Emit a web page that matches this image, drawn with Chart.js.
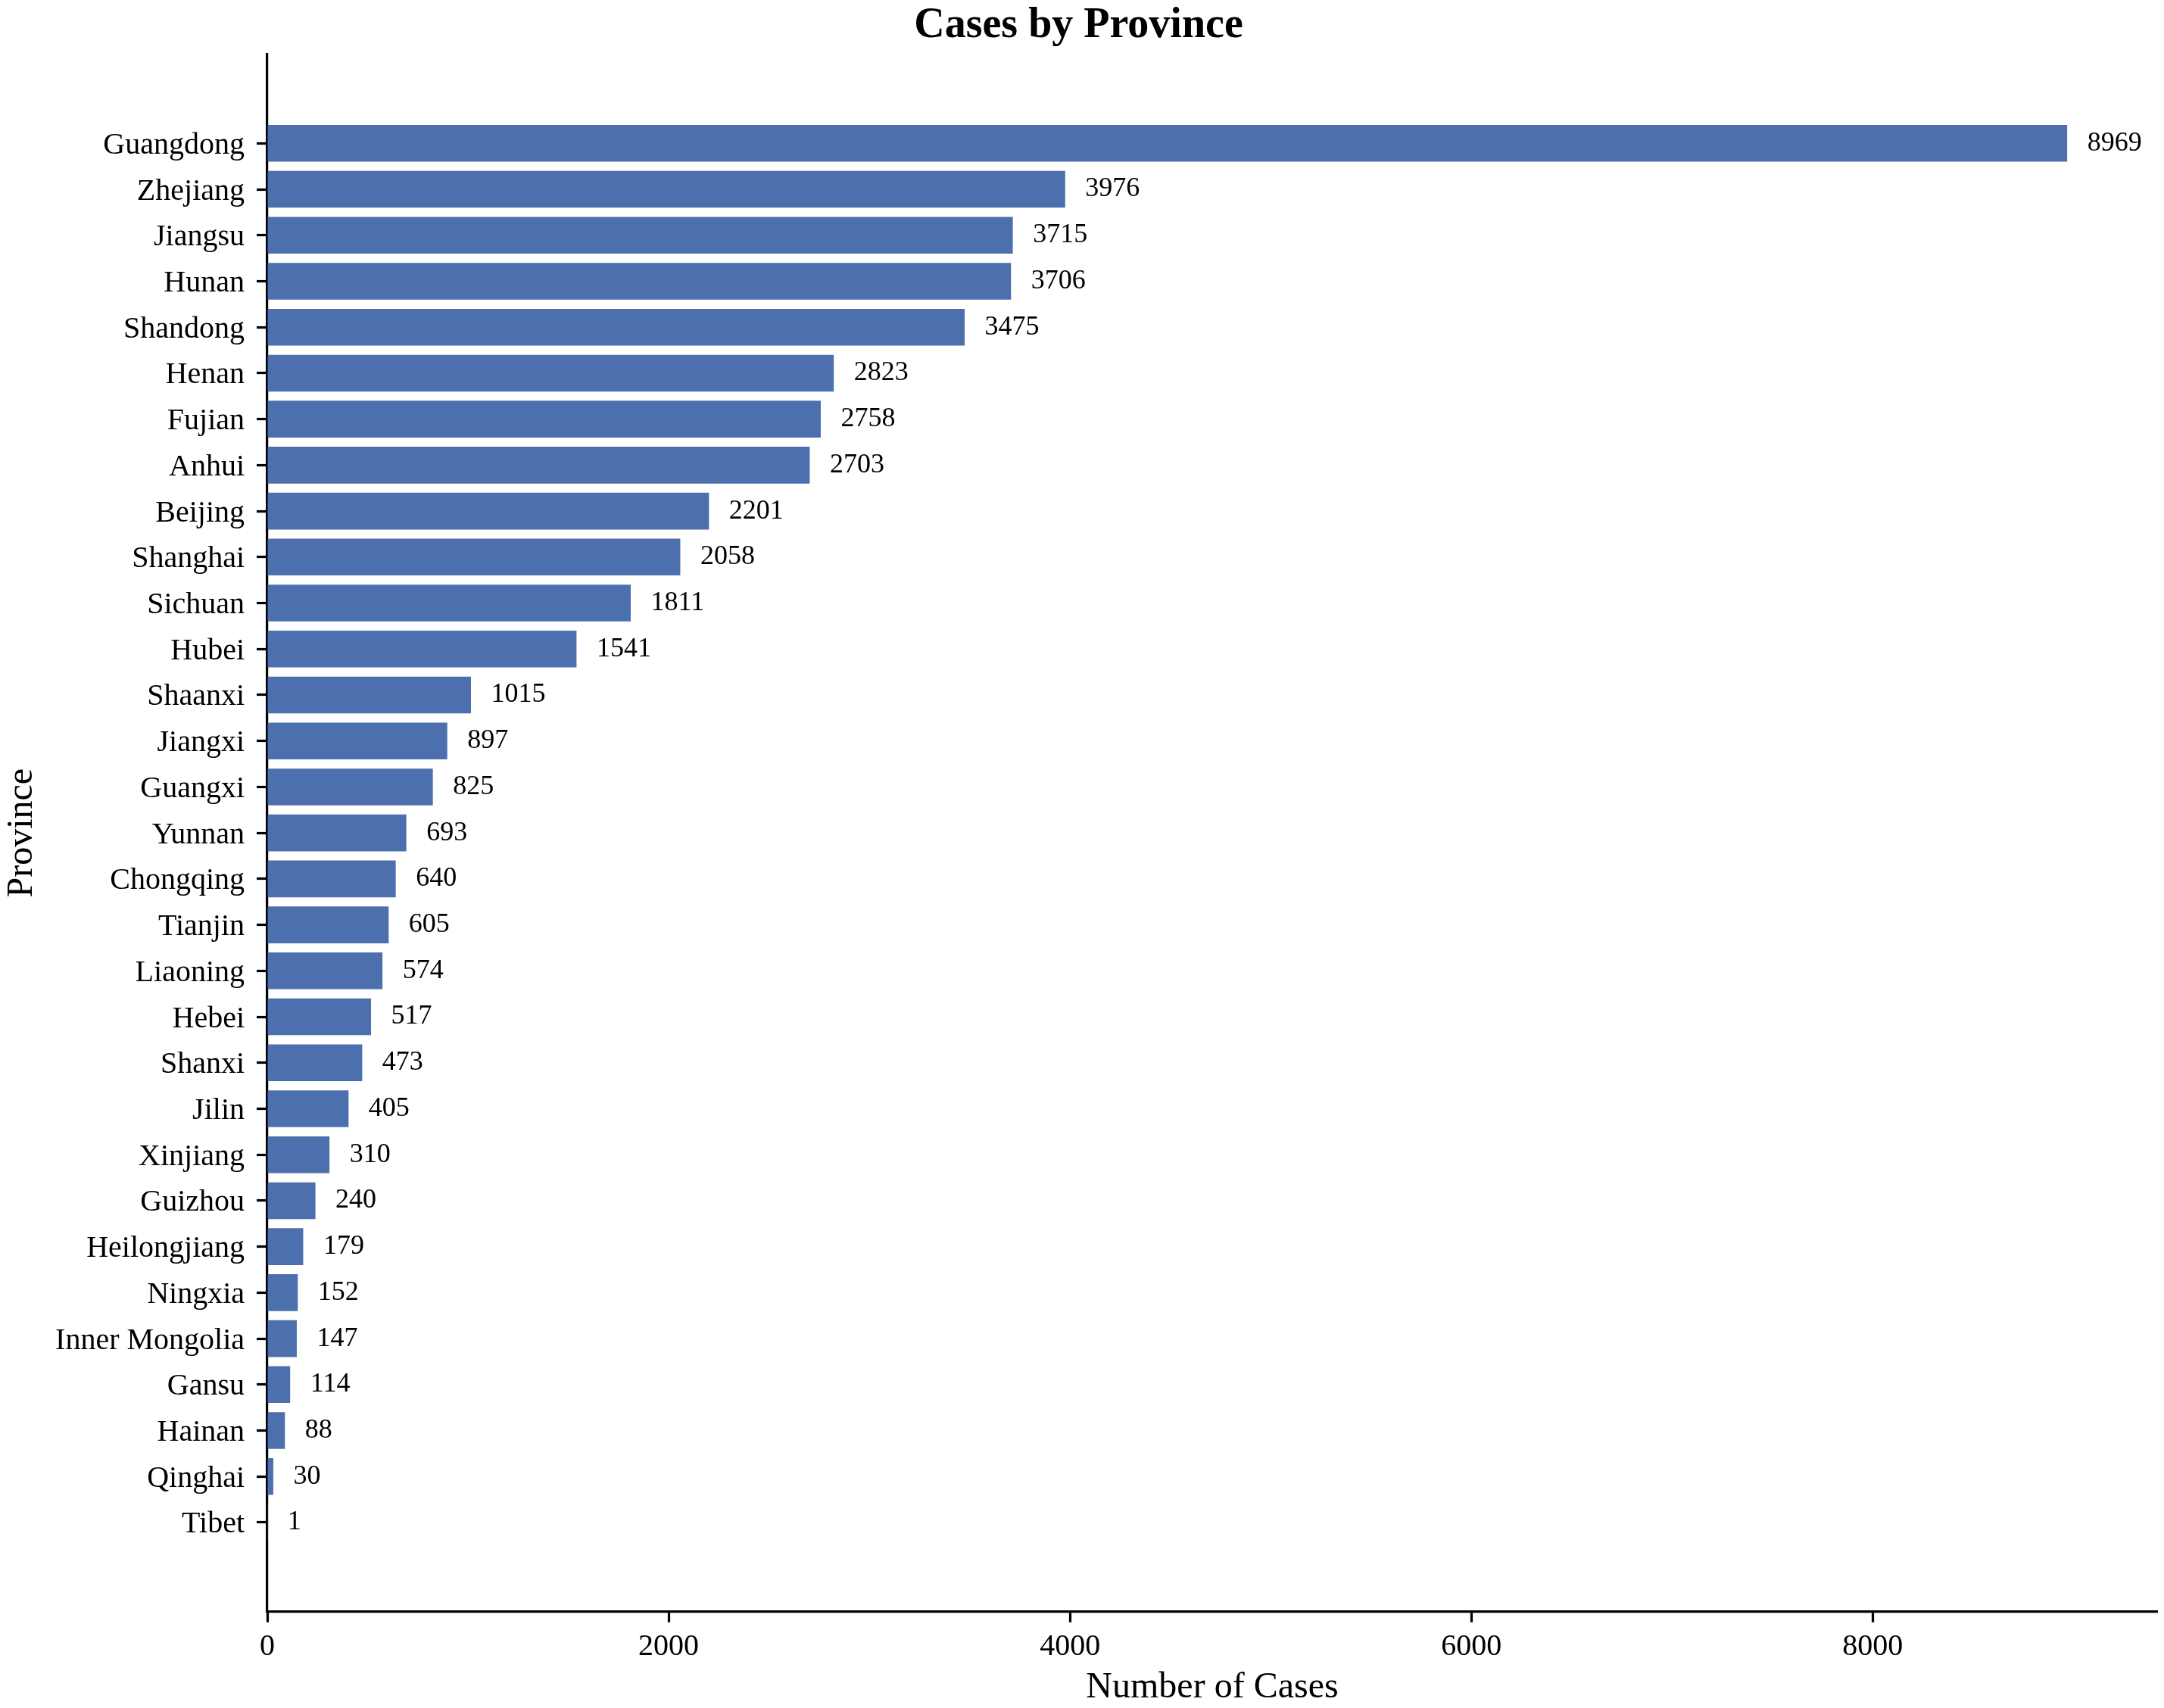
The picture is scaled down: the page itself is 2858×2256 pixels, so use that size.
<!DOCTYPE html>
<html>
<head>
<meta charset="utf-8">
<title>Cases by Province</title>
<script src="https://cdn.jsdelivr.net/npm/chart.js@4.4.1/dist/chart.umd.min.js"></script>
<style>
  html, body { margin: 0; padding: 0; background: #ffffff; }
  #wrap { width: 2858px; height: 2256px; }
</style>
</head>
<body>
<div id="wrap"><canvas id="provinceChart"></canvas></div>
<script>
// values
var provinces = [
  'Guangdong', 'Zhejiang', 'Jiangsu', 'Hunan', 'Shandong', 'Henan', 'Fujian',
  'Anhui', 'Beijing', 'Shanghai', 'Sichuan', 'Hubei', 'Shaanxi', 'Jiangxi',
  'Guangxi', 'Yunnan', 'Chongqing', 'Tianjin', 'Liaoning', 'Hebei', 'Shanxi',
  'Jilin', 'Xinjiang', 'Guizhou', 'Heilongjiang', 'Ningxia', 'Inner Mongolia',
  'Gansu', 'Hainan', 'Qinghai', 'Tibet'
];
var cases = [
  8969, 3976, 3715, 3706, 3475, 2823, 2758,
  2703, 2201, 2058, 1811, 1541, 1015, 897,
  825, 693, 640, 605, 574, 517, 473,
  405, 310, 240, 179, 152, 147,
  114, 88, 30, 1
];
var xTicks = [0, 2000, 4000, 6000, 8000];

var serif = '"Liberation Serif", "Times New Roman", serif';
var barColor = '#4c70ae';

// same margins as a matplotlib barh: 5% around the data
var xMax = Math.max.apply(null, cases) * 1.05;
var yMin = -0.4 - 0.05 * (provinces.length - 0.2);
var yMax = provinces.length - 1 + 0.4 + 0.05 * (provinces.length - 0.2);

var valueLabels = {
  id: 'valueLabels',
  afterDatasetsDraw: function (chart) {
    var ctx = chart.ctx;
    var xScale = chart.scales.x;
    var meta = chart.getDatasetMeta(0);
    ctx.save();
    ctx.font = '36px ' + serif;
    ctx.fillStyle = '#000000';
    ctx.textAlign = 'left';
    ctx.textBaseline = 'middle';
    meta.data.forEach(function (bar, i) {
      ctx.fillText(String(cases[i]), xScale.getPixelForValue(cases[i] + 100), bar.y);
    });
    ctx.restore();
  }
};

var ctx = document.getElementById('provinceChart');
var myBarChart = new Chart(ctx, {
  type: 'bar',
  data: {
    datasets: [{
      label: 'Number of Cases',
      data: cases.map(function (v, i) { return { x: v, y: i }; }),
      backgroundColor: barColor,
      borderWidth: 0,
      categoryPercentage: 1,
      barPercentage: 0.8
    }]
  },
  options: {
    indexAxis: 'y',
    responsive: true,
    maintainAspectRatio: false,
    devicePixelRatio: 1,
    animation: false,
    layout: {
      padding: { left: 0, right: 9, top: 0, bottom: 0 }
    },
    plugins: {
      legend: { display: false },
      tooltip: { enabled: false },
      title: {
        display: true,
        text: 'Cases by Province',
        color: '#000000',
        font: { family: serif, size: 56, weight: 'bold', lineHeight: 1 },
        padding: { top: 7, bottom: 8.5 }
      }
    },
    scales: {
      x: {
        type: 'linear',
        min: 0,
        max: xMax,
        offset: false,
        afterFit: function (scale) { scale.height = 127.2; },
        afterBuildTicks: function (scale) {
          scale.ticks = xTicks.map(function (v) { return { value: v }; });
        },
        border: { display: true, color: '#000000', width: 3.2 },
        grid: {
          display: true,
          offset: false,
          drawOnChartArea: false,
          drawTicks: true,
          tickLength: 14,
          tickColor: '#000000',
          tickWidth: 3.2
        },
        ticks: {
          color: '#000000',
          font: { family: serif, size: 40, lineHeight: 1.2 },
          padding: 9,
          maxRotation: 0,
          callback: function (value) { return String(value); }
        },
        title: {
          display: true,
          text: 'Number of Cases',
          color: '#000000',
          font: { family: serif, size: 48, lineHeight: 1 },
          padding: { top: 0, bottom: 3 }
        }
      },
      y: {
        type: 'linear',
        reverse: true,
        min: yMin,
        max: yMax,
        offset: false,
        afterFit: function (scale) { scale.width = 353; },
        afterBuildTicks: function (scale) {
          scale.ticks = provinces.map(function (p, i) { return { value: i }; });
        },
        border: { display: true, color: '#000000', width: 3.2 },
        grid: {
          display: true,
          offset: false,
          drawOnChartArea: false,
          drawTicks: true,
          tickLength: 14,
          tickColor: '#000000',
          tickWidth: 3.2
        },
        ticks: {
          color: '#000000',
          font: { family: serif, size: 40 },
          padding: 16,
          labelOffset: 3,
          autoSkip: false,
          callback: function (value) { return provinces[value] || ''; }
        },
        title: {
          display: true,
          text: 'Province',
          color: '#000000',
          font: { family: serif, size: 48, lineHeight: 1 },
          padding: { top: 5, bottom: 0 }
        }
      }
    }
  },
  plugins: [valueLabels]
});
</script>
</body>
</html>
